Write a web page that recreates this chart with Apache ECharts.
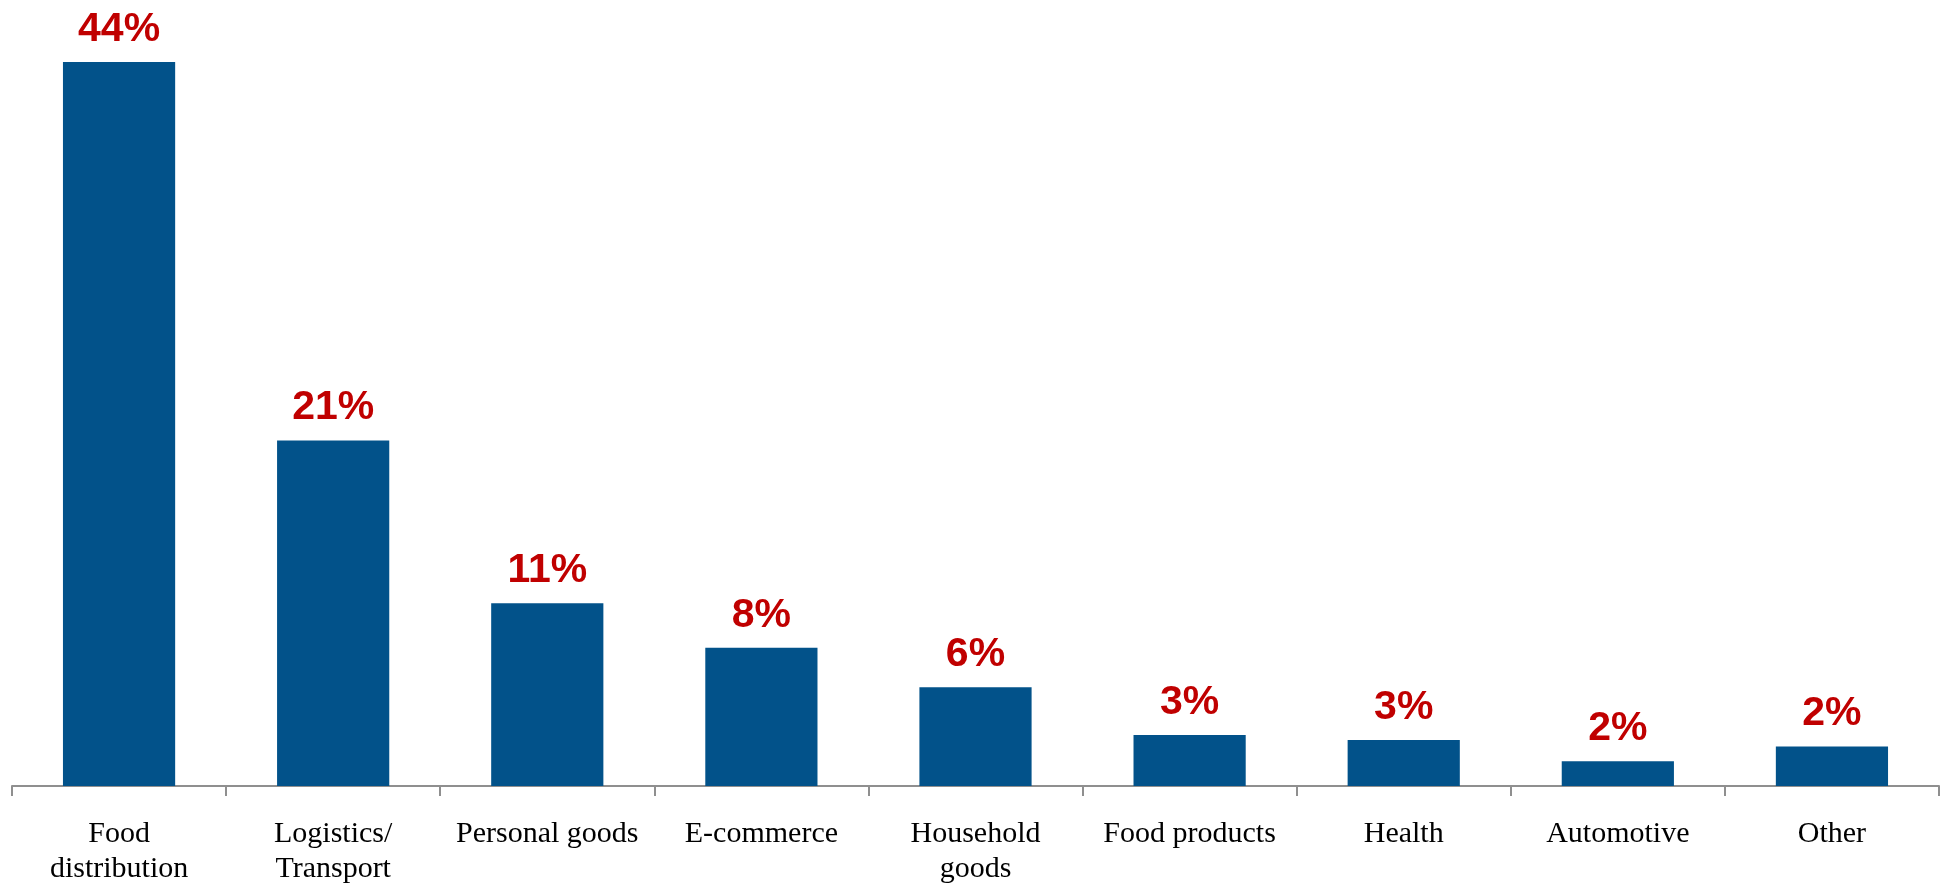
<!DOCTYPE html>
<html>
<head>
<meta charset="utf-8">
<script src="https://cdn.jsdelivr.net/npm/echarts@6/dist/echarts.min.js"></script>
<style>
html,body{margin:0;padding:0;background:#fff;}
#chart{width:1943px;height:883px;}
</style>
</head>
<body>
<div id="chart"></div>
<script>
var categories = ["Food\ndistribution", "Logistics/\nTransport", "Personal goods", "E-commerce", "Household\ngoods", "Food products", "Health", "Automotive", "Other"];
var values = [44, 21, 11.1, 8.4, 6, 3.1, 2.8, 1.5, 2.4];
var valueLabels = ["44%", "21%", "11%", "8%", "6%", "3%", "3%", "2%", "2%"];

var chart = echarts.init(document.getElementById('chart'));
chart.setOption({
  animation: false,
  grid: { left: 12, right: 4, top: 62, bottom: 97, containLabel: false, outerBoundsMode: 'none' },
  xAxis: {
    type: 'category',
    data: categories,
    axisLine: { lineStyle: { color: '#8f8f8f', width: 2 } },
    axisTick: { show: true, length: 10, lineStyle: { color: '#8f8f8f', width: 2 } },
    axisLabel: {
      color: '#000',
      fontFamily: '"Liberation Serif", "Times New Roman", serif',
      fontSize: 30,
      lineHeight: 35,
      margin: 31,
      interval: 0
    }
  },
  yAxis: {
    type: 'value',
    min: 0,
    max: 44,
    show: false,
    splitLine: { show: false }
  },
  series: [{
    type: 'bar',
    data: values,
    barWidth: '52.4%',
    itemStyle: { color: '#02528A' },
    label: {
      show: true,
      position: 'top',
      distance: 12,
      color: '#C00000',
      fontFamily: '"Liberation Sans", Arial, sans-serif',
      fontWeight: 'bold',
      fontSize: 41,
      formatter: function (p) { return valueLabels[p.dataIndex]; }
    }
  }]
});
</script>
</body>
</html>
